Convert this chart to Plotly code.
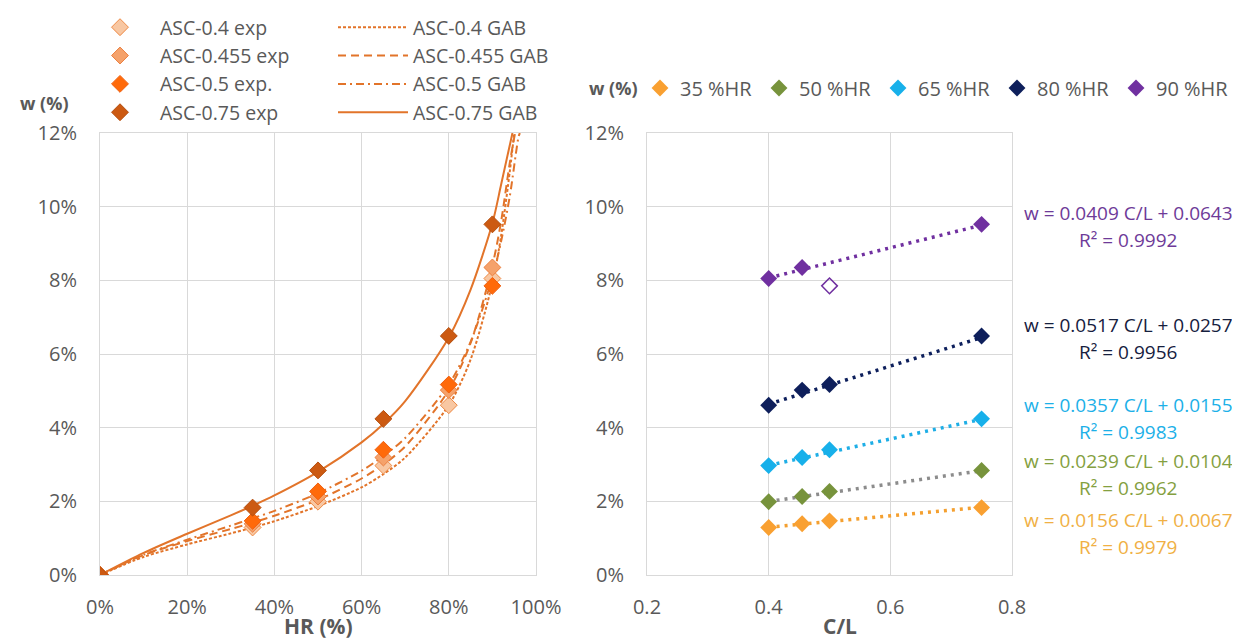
import plotly.graph_objects as go

# ---------------- data ----------------
# Left chart: experimental sorption points (w in %) vs relative humidity HR (%)
hr_exp = [0, 35, 50, 65, 80, 90]
exp_040 = [0, 1.29, 1.99, 2.97, 4.61, 8.05]
exp_0455 = [0, 1.39, 2.13, 3.19, 5.02, 8.35]
exp_050 = [0, 1.47, 2.27, 3.40, 5.17, 7.85]
exp_075 = [0, 1.83, 2.84, 4.24, 6.49, 9.52]

# GAB model curves
gab_hr_040 = [0, 10, 20, 30, 35, 40, 50, 60, 65, 70, 80, 85, 90, 92, 94, 95.0]
gab_w_040 = [0, 0.49, 0.83, 1.13, 1.29, 1.46, 1.87, 2.38, 2.74, 3.19, 4.61, 5.85, 7.93, 9.21, 10.97, 12.0]
gab_hr_0455 = [0, 10, 20, 30, 35, 40, 50, 60, 65, 70, 80, 85, 90, 92, 94, 95.2]
gab_w_0455 = [0, 0.54, 0.92, 1.25, 1.42, 1.61, 2.04, 2.62, 3.00, 3.49, 5.02, 6.30, 8.40, 9.60, 11.20, 12.0]
gab_hr_050 = [0, 10, 20, 30, 35, 40, 50, 60, 65, 70, 80, 85, 90, 92, 94, 96, 96.3]
gab_w_050 = [0, 0.55, 0.96, 1.34, 1.54, 1.74, 2.22, 2.83, 3.23, 3.72, 5.17, 6.33, 8.08, 9.06, 10.29, 11.9, 12.0]
gab_hr_075 = [0, 10, 20, 30, 35, 40, 50, 60, 65, 70, 80, 85, 90, 92, 94.6]
gab_w_075 = [0, 0.60, 1.12, 1.62, 1.88, 2.16, 2.80, 3.60, 4.10, 4.72, 6.45, 7.75, 9.55, 10.6, 12.0]

# Right chart: w (%) vs C/L ratio, per relative humidity
cl = [0.4, 0.455, 0.5, 0.75]
w_35 = [1.29, 1.39, 1.47, 1.83]
w_50 = [1.99, 2.13, 2.27, 2.84]
w_65 = [2.97, 3.19, 3.40, 4.24]
w_80 = [4.61, 5.02, 5.17, 6.49]
w_90 = [8.05, 8.35, 9.52]
cl_90 = [0.4, 0.455, 0.75]
cl_90_outlier = [0.5]
w_90_outlier = [7.85]

# linear trend lines shown on the chart (w = a*C/L + b)
trend_names = ["35 %HR", "50 %HR", "65 %HR", "80 %HR", "90 %HR"]
trend_slope = [0.0156, 0.0239, 0.0357, 0.0517, 0.0409]
trend_intercept = [0.0067, 0.0104, 0.0155, 0.0257, 0.0643]
trend_r2 = ["0.9979", "0.9962", "0.9983", "0.9956", "0.9992"]
trend_x = [0.4, 0.75]

# ---------------- styling ----------------
FONT = "Open Sans"
GRAY = "#595959"
GRID = "#D9D9D9"
LINE_OR = "#E2742A"

OFF = 8  # page body margin
W, H = 1232, 633
def px_x(p):
    return (p - OFF) / W
def px_y(p):
    return 1 - (p - OFF) / H

fig = go.Figure()

# GAB curves (legend2)
gab_sets = [
    ("ASC-0.4 GAB", gab_hr_040, gab_w_040, "3px,2px"),
    ("ASC-0.455 GAB", gab_hr_0455, gab_w_0455, "8px,5px"),
    ("ASC-0.5 GAB", gab_hr_050, gab_w_050, "8px,4px,2px,4px"),
    ("ASC-0.75 GAB", gab_hr_075, gab_w_075, "solid"),
]
for i, (name, xs, ys, dash) in enumerate(gab_sets):
    fig.add_trace(go.Scatter(
        x=xs, y=ys, mode="lines", name=name, line=dict(color=LINE_OR, width=2, dash=dash, shape="spline", smoothing=0.8),
        xaxis="x", yaxis="y", legend="legend2", legendgroup="g%d" % i, hoverinfo="skip"))

# experimental points (legend)
exp_sets = [
    ("ASC-0.4 exp", exp_040, "#F8C7A2", "#EE8A45"),
    ("ASC-0.455 exp", exp_0455, "#F5A26B", "#EC8040"),
    ("ASC-0.5 exp.", exp_050, "#FF6A0A", "#F06010"),
    ("ASC-0.75 exp", exp_075, "#CC5A12", "#B54E0E"),
]
for i, (name, ys, fill, edge) in enumerate(exp_sets):
    fig.add_trace(go.Scatter(
        x=hr_exp, y=ys, mode="markers", name=name,
        marker=dict(symbol="diamond", size=13, color=fill, line=dict(color=edge, width=1)),
        xaxis="x", yaxis="y", legend="legend", legendgroup="e%d" % i))

# right chart: trend lines
trend_colors = ["#F4A030", "#8C8C8C", "#1EAEE6", "#0D1F5C", "#7030A0"]
for a, b, col in zip(trend_slope, trend_intercept, trend_colors):
    fig.add_trace(go.Scatter(
        x=trend_x, y=[(a * x + b) * 100 for x in trend_x], mode="lines",
        line=dict(color=col, width=3.5, dash="3px,5px"), showlegend=False,
        xaxis="x2", yaxis="y2", hoverinfo="skip"))

marker_colors = ["#F9A031", "#77933C", "#17B0EA", "#0E1F5B", "#7030A0"]
series = [(cl, w_35), (cl, w_50), (cl, w_65), (cl, w_80), (cl_90, w_90)]
for name, (xs, ys), col in zip(trend_names, series, marker_colors):
    fig.add_trace(go.Scatter(
        x=xs, y=ys, mode="markers", name=name,
        marker=dict(symbol="diamond", size=13, color=col),
        xaxis="x2", yaxis="y2", legend="legend3"))

fig.add_trace(go.Scatter(
    x=cl_90_outlier, y=w_90_outlier, mode="markers", showlegend=False,
    marker=dict(symbol="diamond-open", size=12, color="#7030A0", line=dict(width=1.5)),
    xaxis="x2", yaxis="y2"))

def note(x, y, text, size, color):
    fig.add_annotation(x=px_x(x), y=px_y(y), xref="paper", yref="paper", text=text, showarrow=False,
                       xanchor="center", yanchor="middle",
                       font=dict(family=FONT, size=size, color=color))

# trend-line equations
eq_colors = ["#F0B044", "#84A040", "#1CB0E8", "#16203E", "#6E3A98"]
eq_y = [520, 461, 405, 325, 213]
for a, b, r2, col, yy in zip(trend_slope, trend_intercept, trend_r2, eq_colors, eq_y):
    note(1128, yy, "w = %.4f C/L + %.4f" % (a, b), 19, col)
    note(1128, yy + 27, "R² = %s" % r2, 19, col)

# y-axis labels "w (%)" and x-axis titles
note(44, 103, "<b>w (%)</b>", 18, GRAY)
note(613, 88, "<b>w (%)</b>", 18, GRAY)
note(318, 626, "<b>HR (%)</b>", 21, GRAY)
note(840, 626, "<b>C/L</b>", 21, GRAY)

axis_common = dict(showgrid=True, gridcolor=GRID, gridwidth=1, showline=True, linecolor=GRID, linewidth=1,
                   mirror=True, zeroline=False, ticks="", automargin=False,
                   tickfont=dict(family=FONT, size=20, color=GRAY))

ydom = [px_y(575), px_y(133)]
fig.update_layout(
    width=W, height=H, margin=dict(l=0, r=0, t=0, b=0, autoexpand=False),
    paper_bgcolor="white", plot_bgcolor="white",
    font=dict(family=FONT, color=GRAY),
    xaxis=dict(domain=[px_x(100), px_x(536)], range=[0, 100], dtick=20, ticksuffix="%",
               ticklabelstandoff=14, **axis_common),
    yaxis=dict(domain=ydom, range=[0, 12], dtick=2, ticksuffix="%", ticklabelstandoff=18, anchor="x",
               **axis_common),
    xaxis2=dict(domain=[px_x(647), px_x(1012)], range=[0.2, 0.8], dtick=0.2, tickformat=".1f", anchor="y2",
                ticklabelstandoff=14, **axis_common),
    yaxis2=dict(domain=ydom, range=[0, 12], dtick=2, ticksuffix="%", ticklabelstandoff=18, anchor="x2",
                **axis_common),
    legend=dict(x=px_x(80), y=1.0, xanchor="left", yanchor="top", bgcolor="rgba(0,0,0,0)",
                font=dict(family=FONT, size=19.5, color=GRAY), traceorder="grouped", tracegroupgap=0,
                itemwidth=70),
    legend2=dict(x=px_x(333), y=1.0, xanchor="left", yanchor="top", bgcolor="rgba(0,0,0,0)",
                 font=dict(family=FONT, size=19.5, color=GRAY), traceorder="grouped", tracegroupgap=0,
                 itemwidth=70),
    legend3=dict(x=px_x(640), y=px_y(88), xanchor="left", yanchor="middle", orientation="h",
                 bgcolor="rgba(0,0,0,0)", entrywidth=74, entrywidthmode="pixels",
                 font=dict(family=FONT, size=20, color=GRAY)),
)

fig.write_html("out.html")
